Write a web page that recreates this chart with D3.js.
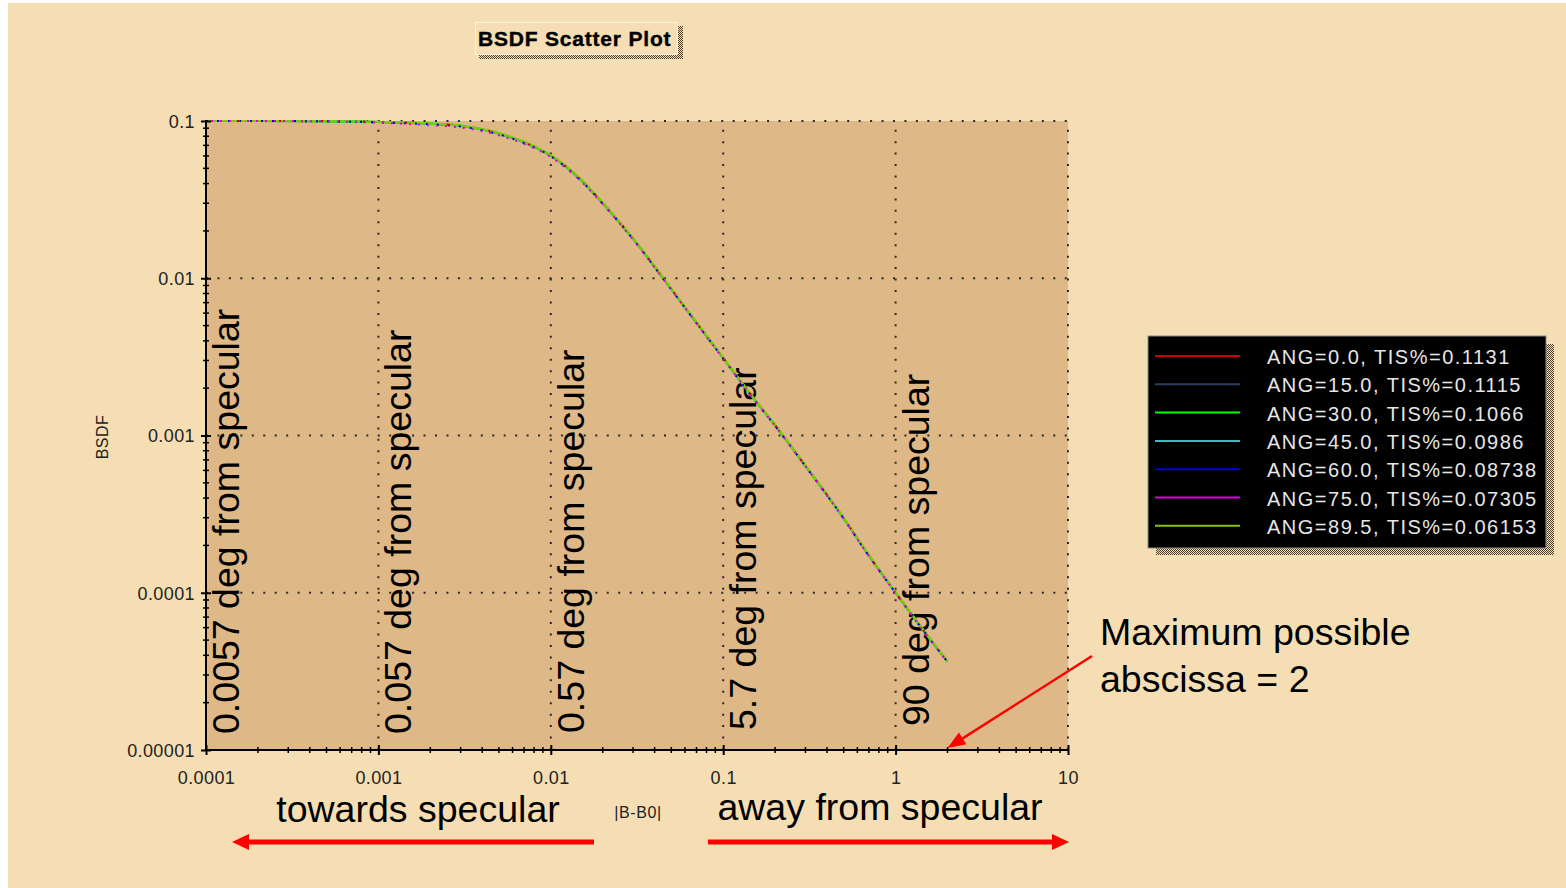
<!DOCTYPE html>
<html>
<head>
<meta charset="utf-8">
<script src="https://cdn.jsdelivr.net/npm/d3@7"></script>
<style>
  html, body { margin: 0; padding: 0; background: #ffffff; }
  svg { display: block; }
</style>
</head>
<body>
<svg id="chart" width="1566" height="888"></svg>
<script>
// |B-B0| sample positions shared by every scatter curve
const abscissa = [0.0001, 0.0002, 0.0005, 0.001, 0.002, 0.003, 0.005, 0.007, 0.01, 0.015, 0.02, 0.03,
                  0.05, 0.07, 0.1, 0.15, 0.2, 0.3, 0.5, 0.7, 1.0, 1.5, 2.0];

// BSDF values for each incidence angle
const bsdfAng0   = [0.1, 0.1, 0.0998, 0.0986, 0.0962, 0.0932, 0.0832, 0.0732, 0.0602, 0.0421, 0.0301, 0.0179,
                    0.00852, 0.00521, 0.00311, 0.00173, 0.00116, 0.000641, 0.000298, 0.000172, 0.000100, 0.0000549, 0.0000365];
const bsdfAng15  = [0.1, 0.1, 0.0997, 0.0985, 0.0961, 0.0931, 0.0831, 0.0731, 0.0601, 0.0420, 0.0300, 0.0178,
                    0.00851, 0.00520, 0.00310, 0.00172, 0.00116, 0.000640, 0.000297, 0.000172, 0.000100, 0.0000548, 0.0000364];
const bsdfAng30  = [0.1, 0.1, 0.0998, 0.0987, 0.0964, 0.0934, 0.0836, 0.0736, 0.0604, 0.0423, 0.0302, 0.0179,
                    0.00855, 0.00523, 0.00312, 0.00173, 0.00117, 0.000643, 0.000299, 0.000173, 0.000101, 0.0000551, 0.0000366];
const bsdfAng45  = [0.1, 0.1, 0.0997, 0.0984, 0.0960, 0.0930, 0.0830, 0.0730, 0.0600, 0.0420, 0.0300, 0.0178,
                    0.00850, 0.00520, 0.00310, 0.00172, 0.00116, 0.000640, 0.000297, 0.000172, 0.000100, 0.0000548, 0.0000364];
const bsdfAng60  = [0.1, 0.1, 0.0996, 0.0980, 0.0952, 0.0922, 0.0822, 0.0724, 0.0597, 0.0417, 0.0298, 0.0177,
                    0.00848, 0.00518, 0.00309, 0.00171, 0.00115, 0.000638, 0.000296, 0.000171, 0.0000997, 0.0000547, 0.0000363];
const bsdfAng75  = [0.1, 0.1, 0.0995, 0.0975, 0.0940, 0.0910, 0.0810, 0.0715, 0.0590, 0.0413, 0.0296, 0.0176,
                    0.00845, 0.00517, 0.00308, 0.00171, 0.00115, 0.000636, 0.000295, 0.000171, 0.0000995, 0.0000546, 0.0000362];
const bsdfAng895 = [0.1, 0.1, 0.0998, 0.0988, 0.0965, 0.0935, 0.0838, 0.0738, 0.0606, 0.0425, 0.0303, 0.0180,
                    0.00858, 0.00525, 0.00313, 0.00174, 0.00117, 0.000645, 0.000300, 0.000174, 0.000101, 0.0000553, 0.0000367];

const seriesLabels = ["ANG=0.0, TIS%=0.1131", "ANG=15.0, TIS%=0.1115", "ANG=30.0, TIS%=0.1066",
                      "ANG=45.0, TIS%=0.0986", "ANG=60.0, TIS%=0.08738", "ANG=75.0, TIS%=0.07305",
                      "ANG=89.5, TIS%=0.06153"];
const seriesValues = [bsdfAng0, bsdfAng15, bsdfAng30, bsdfAng45, bsdfAng60, bsdfAng75, bsdfAng895];
const seriesColors = ["#cc0000", "#2f3f60", "#00ff00", "#3cbcbc", "#0000dd", "#dd00dd", "#88c400"];

// axis ticks
const xTickValues = [0.0001, 0.001, 0.01, 0.1, 1, 10];
const xTickLabels = ["0.0001", "0.001", "0.01", "0.1", "1", "10"];
const yTickValues = [0.00001, 0.0001, 0.001, 0.01, 0.1];
const yTickLabels = ["0.00001", "0.0001", "0.001", "0.01", "0.1"];

// rotated notes placed at each decade line
const noteAbscissa = [0.0001, 0.001, 0.01, 0.1, 1];
const noteTexts = ["0.0057 deg from specular", "0.057 deg from specular", "0.57 deg from specular",
                   "5.7 deg from specular", "90 deg from specular"];

const maxAbscissa = 2;

const svg = d3.select("#chart");
const W = 1566, H = 888;
const plotLeft = 206, plotRight = 1068, plotTop = 121, plotBottom = 750;

const x = d3.scaleLog().domain([0.0001, 10]).range([plotLeft, plotRight]);
const y = d3.scaleLog().domain([0.00001, 0.1]).range([plotBottom, plotTop]);

const defs = svg.append("defs");
const dither = defs.append("pattern").attr("id", "dither")
  .attr("width", 2).attr("height", 2).attr("patternUnits", "userSpaceOnUse");
dither.append("rect").attr("width", 2).attr("height", 2).attr("fill", "#f5deb3");
dither.append("rect").attr("width", 1).attr("height", 1).attr("fill", "#4a3f30");
dither.append("rect").attr("x", 1).attr("y", 1).attr("width", 1).attr("height", 1).attr("fill", "#4a3f30");

// page background with the thin white margin
svg.append("rect").attr("width", W).attr("height", H).attr("fill", "#ffffff");
svg.append("rect").attr("x", 8).attr("y", 3).attr("width", W - 8).attr("height", H - 3).attr("fill", "#f5deb3");

// title box
svg.append("rect").attr("x", 479).attr("y", 26).attr("width", 204).attr("height", 33)
  .attr("fill", "url(#dither)").attr("shape-rendering", "crispEdges");
svg.append("rect").attr("x", 475.5).attr("y", 22.5).attr("width", 202).attr("height", 32)
  .attr("fill", "#f5deb3").attr("stroke", "#fff4de").attr("stroke-width", 1);
svg.append("text").attr("x", 478).attr("y", 46)
  .attr("font-family", "Liberation Sans, Arial, sans-serif").attr("font-weight", "bold")
  .attr("font-size", 21).attr("letter-spacing", 0.8).attr("fill", "#000")
  .attr("stroke", "#000").attr("stroke-width", 0.4)
  .text("BSDF Scatter Plot");

// plot area
svg.append("rect").attr("x", plotLeft).attr("y", plotTop)
  .attr("width", plotRight - plotLeft).attr("height", plotBottom - plotTop)
  .attr("fill", "#deb887");

// dotted grid
const grid = svg.append("g").attr("stroke", "#2a2a2a").attr("stroke-width", 2)
  .attr("stroke-dasharray", "2 9.45").attr("fill", "none");
grid.selectAll("line.v").data(xTickValues.slice(1)).join("line").attr("class", "v")
  .attr("x1", d => x(d)).attr("x2", d => x(d)).attr("y1", plotBottom).attr("y2", plotTop);
grid.selectAll("line.h").data(yTickValues.slice(1)).join("line").attr("class", "h")
  .attr("x1", plotLeft).attr("x2", plotRight).attr("y1", d => y(d)).attr("y2", d => y(d));

// rotated notes
const noteFont = "Liberation Sans, Arial, sans-serif";
const noteStartY = [734, 734, 733, 730, 726];
svg.append("g").selectAll("text").data(noteTexts).join("text")
  .attr("transform", (d, i) => `translate(${x(noteAbscissa[i]) + 33},${noteStartY[i]}) rotate(-90)`)
  .attr("font-family", noteFont).attr("font-size", 37.5).attr("fill", "#000")
  .text(d => d);

// scatter curves
const line = d3.line().x(d => x(d[0])).y(d => y(d[1])).curve(d3.curveMonotoneX);
const drawOrder = [0, 1, 3, 2, 6, 4, 5];
const dashes = { 0: "2 14", 4: "2 9", 5: "2 7" };
const offsets = { 0: 5, 4: 0, 5: 4 };
const curves = svg.append("g").attr("fill", "none");
drawOrder.forEach(i => {
  const pts = abscissa.map((a, k) => [a, seriesValues[i][k]]);
  curves.append("path")
    .attr("d", line(pts))
    .attr("stroke", seriesColors[i])
    .attr("stroke-width", 2)
    .attr("stroke-dasharray", dashes[i] || null)
    .attr("stroke-dashoffset", offsets[i] || 0);
});
// red samples peek through the bundle
curves.append("path")
  .attr("d", line(abscissa.map((a, k) => [a, seriesValues[0][k]])))
  .attr("stroke", seriesColors[0]).attr("stroke-width", 2)
  .attr("stroke-dasharray", "2 40").attr("stroke-dashoffset", 11);

// axes
const tickFont = "Liberation Sans, Arial, sans-serif";
const axisX = svg.append("g").attr("transform", `translate(0,${plotBottom})`)
  .call(d3.axisBottom(x).tickValues(xTickValues).tickFormat((d, i) => xTickLabels[i]).tickSize(5).tickSizeOuter(0));
axisX.select(".domain").remove();
axisX.selectAll(".tick line").attr("y1", -5).attr("y2", 5).attr("stroke", "#000").attr("stroke-width", 2);
axisX.selectAll(".tick text").attr("y", 34).attr("dy", 0).attr("font-family", tickFont)
  .attr("font-size", 18).attr("letter-spacing", 0.4).attr("fill", "#222");

const axisY = svg.append("g").attr("transform", `translate(${plotLeft},0)`)
  .call(d3.axisLeft(y).tickValues(yTickValues).tickFormat((d, i) => yTickLabels[i]).tickSize(5).tickSizeOuter(0));
axisY.select(".domain").remove();
axisY.selectAll(".tick line").attr("x1", -5).attr("x2", 5).attr("stroke", "#000").attr("stroke-width", 2);
axisY.selectAll(".tick text").attr("x", -11).attr("dy", "0.36em").attr("font-family", tickFont)
  .attr("font-size", 18).attr("letter-spacing", 0.4).attr("fill", "#222");

// minor ticks
const minorX = x.ticks().filter(v => !xTickValues.some(t => Math.abs(t - v) / t < 1e-9));
const minorY = y.ticks().filter(v => !yTickValues.some(t => Math.abs(t - v) / t < 1e-9));
const minor = svg.append("g").attr("stroke", "#000").attr("stroke-width", 1.5);
minor.selectAll("line.mx").data(minorX).join("line").attr("class", "mx")
  .attr("x1", d => x(d)).attr("x2", d => x(d)).attr("y1", plotBottom - 3).attr("y2", plotBottom + 3);
minor.selectAll("line.my").data(minorY).join("line").attr("class", "my")
  .attr("x1", plotLeft - 3).attr("x2", plotLeft + 3).attr("y1", d => y(d)).attr("y2", d => y(d));

// axis lines
svg.append("line").attr("x1", plotLeft).attr("x2", plotRight).attr("y1", plotBottom).attr("y2", plotBottom)
  .attr("stroke", "#000").attr("stroke-width", 2);
svg.append("line").attr("x1", plotLeft).attr("x2", plotLeft).attr("y1", plotTop - 1).attr("y2", plotBottom)
  .attr("stroke", "#000").attr("stroke-width", 2);

// axis titles
svg.append("text").attr("transform", "translate(108,437) rotate(-90)").attr("text-anchor", "middle")
  .attr("font-family", tickFont).attr("font-size", 16).attr("letter-spacing", 0.5).attr("fill", "#222").text("BSDF");
svg.append("text").attr("x", 638).attr("y", 818).attr("text-anchor", "middle")
  .attr("font-family", tickFont).attr("font-size", 16).attr("letter-spacing", 0.6).attr("fill", "#222").text("|B-B0|");

// direction captions and arrows
svg.append("text").attr("x", 418).attr("y", 822).attr("text-anchor", "middle")
  .attr("font-family", noteFont).attr("font-size", 37.5).attr("fill", "#000").text("towards specular");
svg.append("text").attr("x", 880).attr("y", 820).attr("text-anchor", "middle")
  .attr("font-family", noteFont).attr("font-size", 37.5).attr("fill", "#000").text("away from specular");

function arrow(x1, y1, x2, y2, width, headLen, headHalf) {
  const ang = Math.atan2(y2 - y1, x2 - x1);
  const bx = x2 - headLen * Math.cos(ang), by = y2 - headLen * Math.sin(ang);
  const g = svg.append("g");
  g.append("line").attr("x1", x1).attr("y1", y1).attr("x2", bx).attr("y2", by)
    .attr("stroke", "#ff0000").attr("stroke-width", width);
  const px = -Math.sin(ang) * headHalf, py = Math.cos(ang) * headHalf;
  g.append("path").attr("d", `M${x2},${y2}L${bx + px},${by + py}L${bx - px},${by - py}Z`).attr("fill", "#ff0000");
}
arrow(594, 842, 232, 842, 5, 17, 8);
arrow(708, 842, 1069, 842, 5, 17, 8);

// maximum abscissa note
svg.append("text").attr("font-family", noteFont).attr("font-size", 37.5).attr("fill", "#000")
  .selectAll("tspan").data(["Maximum possible", "abscissa = 2"]).join("tspan")
  .attr("x", 1100).attr("y", (d, i) => 645 + i * 47).text(d => d);
arrow(1092, 656, x(maxAbscissa), plotBottom - 2, 2.5, 18, 7);

// legend
const lg = svg.append("g");
lg.append("rect").attr("x", 1156).attr("y", 344).attr("width", 398).attr("height", 211)
  .attr("fill", "url(#dither)").attr("shape-rendering", "crispEdges");
lg.append("rect").attr("x", 1148).attr("y", 336).attr("width", 398).attr("height", 212)
  .attr("fill", "#000").attr("stroke", "#8a8a8a").attr("stroke-width", 1);
seriesLabels.forEach((lab, i) => {
  const yy = 356 + i * 28.3;
  lg.append("line").attr("x1", 1155).attr("x2", 1240).attr("y1", yy).attr("y2", yy)
    .attr("stroke", seriesColors[i]).attr("stroke-width", 2);
  lg.append("text").attr("x", 1267).attr("y", yy + 8)
    .attr("font-family", tickFont).attr("font-size", 20).attr("letter-spacing", 1.5)
    .attr("fill", "#e6e6e6").text(lab);
});
</script>
</body>
</html>
